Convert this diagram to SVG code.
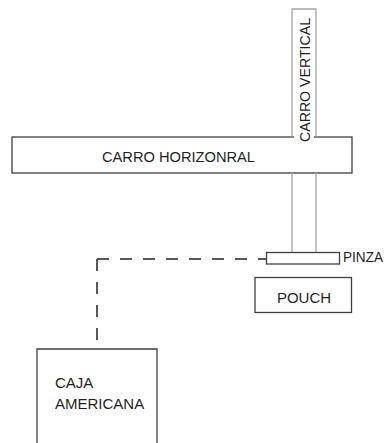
<svg xmlns="http://www.w3.org/2000/svg" width="386" height="443" viewBox="0 0 386 443">
<style>
.box{fill:#fff;stroke:#404040;stroke-width:1.3}
.rail{fill:none;stroke:#a6a6a6;stroke-width:1.3}
.lbl{font-family:"Liberation Sans",Arial,sans-serif;font-size:15px;fill:#1f1f1f}
.dash{fill:none;stroke:#595959;stroke-width:2;stroke-dasharray:12 11}
</style>
<rect width="386" height="443" fill="#fff"/>
<g id="connectors">
<path class="dash" d="M97,259 H266"/>
<path class="dash" d="M97,259 V349"/>
</g>
<g id="carro-horizontal">
<rect class="box" x="12" y="137" width="340" height="36"/>
<text class="lbl" x="178.5" y="162" text-anchor="middle" textLength="153" lengthAdjust="spacingAndGlyphs">CARRO HORIZONRAL</text>
</g>
<g id="carro-vertical">
<path class="rail" d="M292,137 V9 H316 V137"/>
<path class="rail" d="M292,173 V252 M316,173 V252"/>
<rect x="294" y="131" width="20" height="12" fill="#fff"/>
<text class="lbl" transform="translate(310,80) rotate(-90)" x="0" y="0" text-anchor="middle" textLength="124" lengthAdjust="spacingAndGlyphs">CARRO VERTICAL</text>
</g>
<g id="pinza">
<rect class="box" x="266.5" y="252.5" width="73" height="11.5"/>
<text class="lbl" x="343" y="262" font-size="14" textLength="40" lengthAdjust="spacingAndGlyphs">PINZA</text>
</g>
<g id="pouch">
<rect class="box" x="255" y="277.5" width="96.5" height="35"/>
<text class="lbl" x="304" y="303" text-anchor="middle">POUCH</text>
</g>
<g id="caja">
<path class="box" d="M37,443 V349 H157 V443"/>
<text class="lbl" x="55" y="388">CAJA</text>
<text class="lbl" x="55" y="409">AMERICANA</text>
</g>
</svg>
